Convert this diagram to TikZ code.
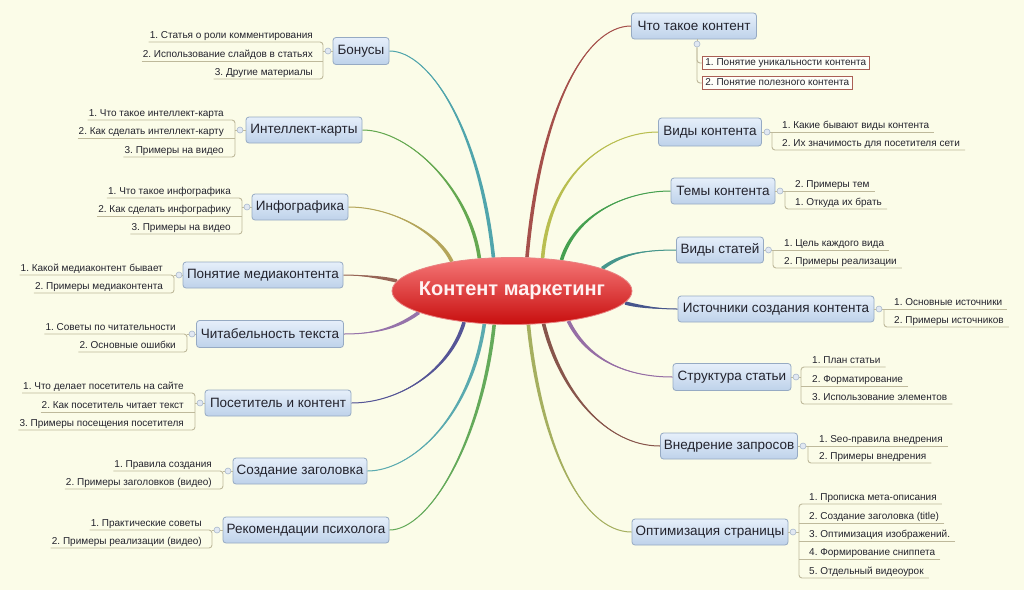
\documentclass[tikz,border=0pt]{standalone}
\usepackage{fontspec}
\setmainfont{Liberation Sans}
\frenchspacing
\usetikzlibrary{shapes.geometric,calc,backgrounds}
\definecolor{bgcol}{RGB}{251,252,232}
\definecolor{topicdraw}{RGB}{150,170,195}
\definecolor{topictop}{RGB}{230,239,250}
\definecolor{topicbot}{RGB}{190,210,234}
\definecolor{textcol}{RGB}{35,35,45}
\definecolor{subcol}{RGB}{190,185,155}
\definecolor{kdraw}{RGB}{170,95,85}
\definecolor{togdraw}{RGB}{170,185,205}
\definecolor{togfill}{RGB}{225,232,242}
\definecolor{cBon}{RGB}{80,165,172}
\definecolor{cIk}{RGB}{100,168,80}
\definecolor{cInf}{RGB}{180,165,90}
\definecolor{cMed}{RGB}{150,100,85}
\definecolor{cChit}{RGB}{150,115,170}
\definecolor{cPos}{RGB}{85,85,150}
\definecolor{cSoz}{RGB}{90,170,175}
\definecolor{cRek}{RGB}{100,170,90}
\definecolor{cChto}{RGB}{165,80,75}
\definecolor{cVk}{RGB}{185,190,80}
\definecolor{cTk}{RGB}{70,160,80}
\definecolor{cVs}{RGB}{70,150,140}
\definecolor{cIst}{RGB}{70,85,140}
\definecolor{cStr}{RGB}{150,110,165}
\definecolor{cVn}{RGB}{135,85,75}
\definecolor{cOpt}{RGB}{165,175,95}
\definecolor{ellTop}{RGB}{245,120,120}
\definecolor{ellMid}{RGB}{236,32,32}
\definecolor{ellBot}{RGB}{200,14,14}
\definecolor{ellDraw}{RGB}{232,130,130}
\newcommand\subfont{\fontsize{10}{12}\selectfont}
\newcommand\topfont{\fontsize{13.5}{16}\selectfont}
\newcommand\mmconn[6]{%
  \fill[#1] ($(#2)+(#6)$) .. controls ($(#3)+(#6)$) and (#4) .. (#5) .. controls (#4) and ($(#3)-(#6)$) .. ($(#2)-(#6)$) -- cycle;
  \draw[#1, line width=1] (#2) .. controls (#3) and (#4) .. (#5);}
\tikzset{
  topic/.style={draw=topicdraw, rounded corners=3, top color=topictop, bottom color=topicbot, font=\topfont, text=textcol, inner sep=0, line width=0.8},
  lsub/.style={anchor=south east, font=\subfont, text=textcol, inner xsep=1, inner ysep=1.5, text height=7.5, text depth=2},
  rsub/.style={anchor=south west, font=\subfont, text=textcol, inner xsep=5, inner ysep=1.5, text height=7.5, text depth=2},
  ksub/.style={anchor=west, draw=kdraw, fill=white!70!bgcol, font=\subfont, text=textcol, inner xsep=3, inner ysep=1.5, text height=7.5, text depth=2, line width=0.8},
  subline/.style={draw=subcol, line width=0.9},
  toggle/.style={circle, draw=togdraw, fill=togfill, minimum size=6, inner sep=0, line width=0.6},
}
\begin{document}
\begin{tikzpicture}[x=1pt,y=-1pt]
\useasboundingbox (0,0) rectangle (1024,590);

% central topic
\node[ellipse, minimum width=240, minimum height=67, inner sep=0, top color=ellTop, middle color=ellMid, bottom color=ellBot, draw=ellDraw, line width=0.8] (cm) at (512,291) {};
\node[font=\fontsize{20}{23}\selectfont\bfseries, text=white!95!red] (cmt) at (cm.center) {Контент маркетинг};

% ---------- left side ----------
% Бонусы
\node[topic, minimum width=56, minimum height=27] (bon) at (361,51) {Бонусы};
\coordinate (bons) at (323,51);
\node[lsub] (bon1) at (314,42) {1. Статья о роли комментирования};
\node[lsub] (bon2) at (314,61) {2. Использование слайдов в статьях};
\node[lsub] (bon3) at (314,79) {3. Другие материалы};
\draw[subline, rounded corners=3] (bon1.south west) -- (bon1.south west -| bons) -- (bon3.south west -| bons) -- (bon3.south west);
\draw[subline] (bon2.south west) -- (bon2.south west -| bons);
\draw[subline] (bons) -- (bon.west);
\node[toggle] (bont) at (328,51) {};

% Интеллект-карты
\node[topic, minimum width=116, minimum height=26] (ik) at (304,130) {Интеллект-карты};
\coordinate (iks) at (235,130);
\node[lsub] (ik1) at (225,120) {1. Что такое интеллект-карта};
\node[lsub] (ik2) at (225,138) {2. Как сделать интеллект-карту};
\node[lsub] (ik3) at (225,157) {3. Примеры на видео};
\draw[subline, rounded corners=3] (ik1.south west) -- (ik1.south west -| iks) -- (ik3.south west -| iks) -- (ik3.south west);
\draw[subline] (ik2.south west) -- (ik2.south west -| iks);
\draw[subline] (iks) -- (ik.west);
\node[toggle] (ikt) at (240,130) {};

% Инфографика
\node[topic, minimum width=96, minimum height=26] (inf) at (300,207) {Инфографика};
\coordinate (infs) at (242,207);
\node[lsub] (inf1) at (232,198) {1. Что такое инфографика};
\node[lsub] (inf2) at (232,216) {2. Как сделать инфографику};
\node[lsub] (inf3) at (232,234) {3. Примеры на видео};
\draw[subline, rounded corners=3] (inf1.south west) -- (inf1.south west -| infs) -- (inf3.south west -| infs) -- (inf3.south west);
\draw[subline] (inf2.south west) -- (inf2.south west -| infs);
\draw[subline] (infs) -- (inf.west);
\node[toggle] (inft) at (247,207) {};

% Понятие медиаконтента
\node[topic, minimum width=160, minimum height=26] (med) at (263,275) {Понятие медиаконтента};
\coordinate (meds) at (174,275);
\node[lsub] (med1) at (164,275) {1. Какой медиаконтент бывает};
\node[lsub] (med2) at (164,293) {2. Примеры медиаконтента};
\draw[subline, rounded corners=3] (med1.south west) -- (med1.south west -| meds) -- (med2.south west -| meds) -- (med2.south west);
\draw[subline] (meds) -- (med.west);
\node[toggle] (medt) at (179,275) {};

% Читабельность текста
\node[topic, minimum width=147, minimum height=27] (chit) at (270,334) {Читабельность текста};
\coordinate (chits) at (187,334);
\node[lsub] (chit1) at (177,334) {1. Советы по читательности};
\node[lsub] (chit2) at (177,352) {2. Основные ошибки};
\draw[subline, rounded corners=3] (chit1.south west) -- (chit1.south west -| chits) -- (chit2.south west -| chits) -- (chit2.south west);
\draw[subline] (chits) -- (chit.west);
\node[toggle] (chitt) at (192,334) {};

% Посетитель и контент
\node[topic, minimum width=146, minimum height=26] (pos) at (278,403) {Посетитель и контент};
\coordinate (poss) at (195,403);
\node[lsub] (pos1) at (185,393) {1. Что делает посетитель на сайте};
\node[lsub] (pos2) at (185,412) {2. Как посетитель читает текст};
\node[lsub] (pos3) at (185,430) {3. Примеры посещения посетителя};
\draw[subline, rounded corners=3] (pos1.south west) -- (pos1.south west -| poss) -- (pos3.south west -| poss) -- (pos3.south west);
\draw[subline] (pos2.south west) -- (pos2.south west -| poss);
\draw[subline] (poss) -- (pos.west);
\node[toggle] (post) at (200,403) {};

% Создание заголовка
\node[topic, minimum width=134, minimum height=26] (soz) at (300,471) {Создание заголовка};
\coordinate (sozs) at (223,471);
\node[lsub] (soz1) at (213,471) {1. Правила создания};
\node[lsub] (soz2) at (213,489) {2. Примеры заголовков (видео)};
\draw[subline, rounded corners=3] (soz1.south west) -- (soz1.south west -| sozs) -- (soz2.south west -| sozs) -- (soz2.south west);
\draw[subline] (sozs) -- (soz.west);
\node[toggle] (sozt) at (228,471) {};

% Рекомендации психолога
\node[topic, minimum width=166, minimum height=26] (rek) at (306,530) {Рекомендации психолога};
\coordinate (reks) at (212,530);
\node[lsub] (rek1) at (203,530) {1. Практические советы};
\node[lsub] (rek2) at (203,548) {2. Примеры реализации (видео)};
\draw[subline, rounded corners=3] (rek1.south west) -- (rek1.south west -| reks) -- (rek2.south west -| reks) -- (rek2.south west);
\draw[subline] (reks) -- (rek.west);
\node[toggle] (rekt) at (217,530) {};

% ---------- right side ----------
% Что такое контент
\node[topic, minimum width=125, minimum height=26] (chto) at (694,26) {Что такое контент};
\node[toggle] (chtot) at (697,44) {};
\node[ksub] (chto1) at (702,63) {1. Понятие уникальности контента};
\node[ksub] (chto2) at (702,83) {2. Понятие полезного контента};
\draw[subline] (chto.south -| chtot) -- (chtot.north);
\draw[subline, rounded corners=3] (chtot.south) |- (chto1.west);
\draw[subline, rounded corners=3] (chtot.south) |- (chto2.west);

% Виды контента
\node[topic, minimum width=103, minimum height=28] (vk) at (710,132) {Виды контента};
\coordinate (vks) at (772,132);
\node[rsub] (vk1) at (777,132) {1. Какие бывают виды контента};
\node[rsub] (vk2) at (777,150) {2. Их значимость для посетителя сети};
\draw[subline] (vk.east) -- (vk1.south east);
\draw[subline, rounded corners=3] (vks) -- (vk2.south west -| vks) -- (vk2.south east);
\node[toggle] (vkt) at (767,132) {};

% Темы контента
\node[topic, minimum width=104, minimum height=26] (tk) at (723,191) {Темы контента};
\coordinate (tks) at (785,191);
\node[rsub] (tk1) at (790,191) {2. Примеры тем};
\node[rsub] (tk2) at (790,209) {1. Откуда их брать};
\draw[subline] (tk.east) -- (tk1.south east);
\draw[subline, rounded corners=3] (tks) -- (tk2.south west -| tks) -- (tk2.south east);
\node[toggle] (tkt) at (780,191) {};

% Виды статей
\node[topic, minimum width=87, minimum height=26] (vs) at (720,250) {Виды статей};
\coordinate (vss) at (773,250);
\node[rsub] (vs1) at (779,250) {1. Цель каждого вида};
\node[rsub] (vs2) at (779,268) {2. Примеры реализации};
\draw[subline] (vs.east) -- (vs1.south east);
\draw[subline, rounded corners=3] (vss) -- (vs2.south west -| vss) -- (vs2.south east);
\node[toggle] (vst) at (768.5,250) {};

% Источники создания контента
\node[topic, minimum width=196, minimum height=26] (ist) at (776,309) {Источники создания контента};
\coordinate (ists) at (884,309);
\node[rsub] (ist1) at (889,309) {1. Основные источники};
\node[rsub] (ist2) at (889,327) {2. Примеры источников};
\draw[subline] (ist.east) -- (ist1.south east);
\draw[subline, rounded corners=3] (ists) -- (ist2.south west -| ists) -- (ist2.south east);
\node[toggle] (istt) at (879,309) {};

% Структура статьи
\node[topic, minimum width=118, minimum height=27] (str) at (732,377) {Структура статьи};
\coordinate (strs) at (801,377);
\node[rsub] (str1) at (807,367) {1. План статьи};
\node[rsub] (str2) at (807,386) {2. Форматирование};
\node[rsub] (str3) at (807,404) {3. Использование элементов};
\draw[subline, rounded corners=3] (str1.south east) -- (str1.south west -| strs) -- (str3.south west -| strs) -- (str3.south east);
\draw[subline] (str2.south east) -- (str2.south west -| strs);
\draw[subline] (strs) -- (str.east);
\node[toggle] (strt) at (796,377) {};

% Внедрение запросов
\node[topic, minimum width=137, minimum height=26] (vn) at (729,446) {Внедрение запросов};
\coordinate (vns) at (808,446);
\node[rsub] (vn1) at (814,446) {1. Seo-правила внедрения};
\node[rsub] (vn2) at (814,463) {2. Примеры внедрения};
\draw[subline] (vn.east) -- (vn1.south east);
\draw[subline, rounded corners=3] (vns) -- (vn2.south west -| vns) -- (vn2.south east);
\node[toggle] (vnt) at (803,446) {};

% Оптимизация страницы
\node[topic, minimum width=156, minimum height=26] (opt) at (710,532) {Оптимизация страницы};
\coordinate (opts) at (799,532);
\node[rsub] (opt1) at (804,504) {1. Прописка мета-описания};
\node[rsub] (opt2) at (804,523) {2. Создание заголовка (title)};
\node[rsub] (opt3) at (804,541) {3. Оптимизация изображений.};
\node[rsub] (opt4) at (804,559) {4. Формирование сниппета};
\node[rsub] (opt5) at (804,578) {5. Отдельный видеоурок};
\draw[subline, rounded corners=3] (opt1.south east) -- (opt1.south west -| opts) -- (opt5.south west -| opts) -- (opt5.south east);
\draw[subline] (opt2.south east) -- (opt2.south west -| opts);
\draw[subline] (opt3.south east) -- (opt3.south west -| opts);
\draw[subline] (opt4.south east) -- (opt4.south west -| opts);
\draw[subline] (opts) -- (opt.east);
\node[toggle] (optt) at (793,532) {};

% ---------- background and main connectors ----------
\begin{pgfonlayer}{background}
\fill[bgcol] (0,0) rectangle (1024,590);
\mmconn{cBon}{cm.119}{480,130}{430,51}{bon.east}{1.8,0}
\mmconn{cIk}{cm.135}{470,190}{410,130}{ik.east}{1.8,0}
\mmconn{cInf}{cm.154}{440,235}{395,207}{inf.east}{1.62,-0.78}
\mmconn{cMed}{cm.175}{380,277}{360,275}{med.east}{0,1.8}
\mmconn{cChit}{cm.193}{395,330}{370,334}{chit.east}{0.92,1.54}
\mmconn{cPos}{cm.213}{450,370}{400,403}{pos.east}{1.72,0.55}
\mmconn{cSoz}{cm.230}{470,420}{410,471}{soz.east}{1.8,0}
\mmconn{cRek}{cm.242}{482,440}{430,530}{rek.east}{1.8,0}
\mmconn{cChto}{cm.66}{540,110}{585,26}{chto.west}{1.8,0}
\mmconn{cVk}{cm.47}{550,170}{610,132}{vk.west}{1.8,0}
\mmconn{cTk}{cm.32}{575,215}{625,191}{tk.west}{1.72,0.55}
\mmconn{cVs}{cm.14}{620,255}{640,250}{vs.west}{1,1.5}
\mmconn{cIst}{cm.354}{640,307}{660,309}{ist.west}{0,1.8}
\mmconn{cStr}{cm.332}{585,355}{620,377}{str.west}{1.59,-0.85}
\mmconn{cVn}{cm.314}{560,390}{605,446}{vn.west}{1.75,-0.46}
\mmconn{cOpt}{cm.296}{540,440}{580,532}{opt.west}{1.8,0}
\end{pgfonlayer}
\end{tikzpicture}
\end{document}
